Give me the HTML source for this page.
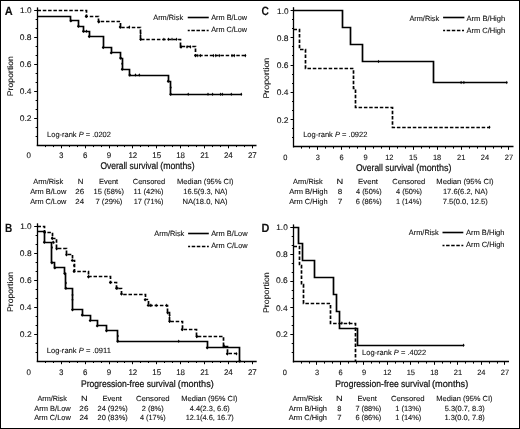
<!DOCTYPE html>
<html><head><meta charset="utf-8"><style>
html,body{margin:0;padding:0;background:#fff;}
svg{display:block;filter:grayscale(100%);}
text{font-family:"Liberation Sans", sans-serif;text-rendering:geometricPrecision;}
</style></head><body>
<svg width="520" height="429" viewBox="0 0 520 429">
<rect x="0" y="0" width="520" height="429" fill="#fff"/>
<rect x="0.5" y="0.5" width="519" height="428" fill="none" stroke="#000" stroke-width="1"/>
<text x="4.82" y="15.00" font-size="12" font-weight="bold" textLength="7.98" lengthAdjust="spacingAndGlyphs" fill="#111" stroke="#111" stroke-width="0.1">A</text>
<text x="20.08" y="13.23" font-size="8.1" textLength="11.45" lengthAdjust="spacingAndGlyphs" fill="#111" stroke="#111" stroke-width="0.1">1.0</text>
<text x="19.76" y="39.94" font-size="8.1" textLength="11.78" lengthAdjust="spacingAndGlyphs" fill="#111" stroke="#111" stroke-width="0.1">0.8</text>
<text x="19.76" y="67.03" font-size="8.1" textLength="11.82" lengthAdjust="spacingAndGlyphs" fill="#111" stroke="#111" stroke-width="0.1">0.6</text>
<text x="19.76" y="94.13" font-size="8.1" textLength="11.69" lengthAdjust="spacingAndGlyphs" fill="#111" stroke="#111" stroke-width="0.1">0.4</text>
<text x="19.76" y="121.13" font-size="8.1" textLength="11.87" lengthAdjust="spacingAndGlyphs" fill="#111" stroke="#111" stroke-width="0.1">0.2</text>
<text transform="translate(13.00,96.20) rotate(-90)" x="0" y="0" font-size="8.2" textLength="40.15" lengthAdjust="spacingAndGlyphs" fill="#111" stroke="#111" stroke-width="0.1">Proportion</text>
<line x1="37.50" y1="7.40" x2="37.50" y2="145.95" stroke="#000" stroke-width="1.3"/>
<line x1="36.75" y1="145.50" x2="256.50" y2="145.50" stroke="#000" stroke-width="1.3"/>
<line x1="34.20" y1="10.50" x2="37.40" y2="10.50" stroke="#000" stroke-width="1.0"/>
<line x1="35.60" y1="19.50" x2="37.40" y2="19.50" stroke="#000" stroke-width="1.0"/>
<line x1="35.60" y1="28.50" x2="37.40" y2="28.50" stroke="#000" stroke-width="1.0"/>
<line x1="34.20" y1="37.50" x2="37.40" y2="37.50" stroke="#000" stroke-width="1.0"/>
<line x1="35.60" y1="46.50" x2="37.40" y2="46.50" stroke="#000" stroke-width="1.0"/>
<line x1="35.60" y1="55.50" x2="37.40" y2="55.50" stroke="#000" stroke-width="1.0"/>
<line x1="34.20" y1="64.50" x2="37.40" y2="64.50" stroke="#000" stroke-width="1.0"/>
<line x1="35.60" y1="73.50" x2="37.40" y2="73.50" stroke="#000" stroke-width="1.0"/>
<line x1="35.60" y1="82.50" x2="37.40" y2="82.50" stroke="#000" stroke-width="1.0"/>
<line x1="34.20" y1="91.50" x2="37.40" y2="91.50" stroke="#000" stroke-width="1.0"/>
<line x1="35.60" y1="100.50" x2="37.40" y2="100.50" stroke="#000" stroke-width="1.0"/>
<line x1="35.60" y1="109.50" x2="37.40" y2="109.50" stroke="#000" stroke-width="1.0"/>
<line x1="34.20" y1="118.50" x2="37.40" y2="118.50" stroke="#000" stroke-width="1.0"/>
<line x1="35.60" y1="127.50" x2="37.40" y2="127.50" stroke="#000" stroke-width="1.0"/>
<line x1="35.60" y1="136.50" x2="37.40" y2="136.50" stroke="#000" stroke-width="1.0"/>
<line x1="45.50" y1="145.30" x2="45.50" y2="147.10" stroke="#000" stroke-width="1.0"/>
<line x1="53.50" y1="145.30" x2="53.50" y2="147.10" stroke="#000" stroke-width="1.0"/>
<line x1="61.50" y1="145.30" x2="61.50" y2="148.30" stroke="#000" stroke-width="1.0"/>
<line x1="69.50" y1="145.30" x2="69.50" y2="147.10" stroke="#000" stroke-width="1.0"/>
<line x1="77.50" y1="145.30" x2="77.50" y2="147.10" stroke="#000" stroke-width="1.0"/>
<line x1="85.50" y1="145.30" x2="85.50" y2="148.30" stroke="#000" stroke-width="1.0"/>
<line x1="93.50" y1="145.30" x2="93.50" y2="147.10" stroke="#000" stroke-width="1.0"/>
<line x1="101.50" y1="145.30" x2="101.50" y2="147.10" stroke="#000" stroke-width="1.0"/>
<line x1="109.50" y1="145.30" x2="109.50" y2="148.30" stroke="#000" stroke-width="1.0"/>
<line x1="117.50" y1="145.30" x2="117.50" y2="147.10" stroke="#000" stroke-width="1.0"/>
<line x1="124.50" y1="145.30" x2="124.50" y2="147.10" stroke="#000" stroke-width="1.0"/>
<line x1="132.50" y1="145.30" x2="132.50" y2="148.30" stroke="#000" stroke-width="1.0"/>
<line x1="140.50" y1="145.30" x2="140.50" y2="147.10" stroke="#000" stroke-width="1.0"/>
<line x1="148.50" y1="145.30" x2="148.50" y2="147.10" stroke="#000" stroke-width="1.0"/>
<line x1="156.50" y1="145.30" x2="156.50" y2="148.30" stroke="#000" stroke-width="1.0"/>
<line x1="164.50" y1="145.30" x2="164.50" y2="147.10" stroke="#000" stroke-width="1.0"/>
<line x1="172.50" y1="145.30" x2="172.50" y2="147.10" stroke="#000" stroke-width="1.0"/>
<line x1="180.50" y1="145.30" x2="180.50" y2="148.30" stroke="#000" stroke-width="1.0"/>
<line x1="188.50" y1="145.30" x2="188.50" y2="147.10" stroke="#000" stroke-width="1.0"/>
<line x1="196.50" y1="145.30" x2="196.50" y2="147.10" stroke="#000" stroke-width="1.0"/>
<line x1="204.50" y1="145.30" x2="204.50" y2="148.30" stroke="#000" stroke-width="1.0"/>
<line x1="212.50" y1="145.30" x2="212.50" y2="147.10" stroke="#000" stroke-width="1.0"/>
<line x1="220.50" y1="145.30" x2="220.50" y2="147.10" stroke="#000" stroke-width="1.0"/>
<line x1="228.50" y1="145.30" x2="228.50" y2="148.30" stroke="#000" stroke-width="1.0"/>
<line x1="236.50" y1="145.30" x2="236.50" y2="147.10" stroke="#000" stroke-width="1.0"/>
<line x1="244.50" y1="145.30" x2="244.50" y2="147.10" stroke="#000" stroke-width="1.0"/>
<line x1="252.50" y1="145.30" x2="252.50" y2="148.30" stroke="#000" stroke-width="1.0"/>
<text x="26.49" y="158.30" font-size="8.2" textLength="4.42" lengthAdjust="spacingAndGlyphs" fill="#111" stroke="#111" stroke-width="0.1">0</text>
<text x="59.09" y="158.30" font-size="8.2" textLength="4.42" lengthAdjust="spacingAndGlyphs" fill="#111" stroke="#111" stroke-width="0.1">3</text>
<text x="82.93" y="158.30" font-size="8.2" textLength="4.42" lengthAdjust="spacingAndGlyphs" fill="#111" stroke="#111" stroke-width="0.1">6</text>
<text x="106.83" y="158.30" font-size="8.2" textLength="4.42" lengthAdjust="spacingAndGlyphs" fill="#111" stroke="#111" stroke-width="0.1">9</text>
<text x="128.41" y="158.30" font-size="8.2" textLength="8.85" lengthAdjust="spacingAndGlyphs" fill="#111" stroke="#111" stroke-width="0.1">12</text>
<text x="152.25" y="158.30" font-size="8.2" textLength="8.85" lengthAdjust="spacingAndGlyphs" fill="#111" stroke="#111" stroke-width="0.1">15</text>
<text x="176.13" y="158.30" font-size="8.2" textLength="8.85" lengthAdjust="spacingAndGlyphs" fill="#111" stroke="#111" stroke-width="0.1">18</text>
<text x="200.15" y="158.30" font-size="8.2" textLength="8.85" lengthAdjust="spacingAndGlyphs" fill="#111" stroke="#111" stroke-width="0.1">21</text>
<text x="223.95" y="158.30" font-size="8.2" textLength="8.85" lengthAdjust="spacingAndGlyphs" fill="#111" stroke="#111" stroke-width="0.1">24</text>
<text x="247.91" y="158.30" font-size="8.2" textLength="8.85" lengthAdjust="spacingAndGlyphs" fill="#111" stroke="#111" stroke-width="0.1">27</text>
<text x="100.42" y="169.40" font-size="9.8" textLength="57.73" lengthAdjust="spacingAndGlyphs" fill="#111" stroke="#111" stroke-width="0.22">Overall survival</text>
<text x="160.28" y="169.40" font-size="9.8" textLength="34.29" lengthAdjust="spacingAndGlyphs" fill="#111" stroke="#111" stroke-width="0.22">(months)</text>
<text x="47.10" y="137.00" font-size="7.6" textLength="63.78" lengthAdjust="spacingAndGlyphs" fill="#111" stroke="#111" stroke-width="0.1">Log-rank <tspan font-style="italic">P</tspan> = .0202</text>
<text x="153.26" y="20.00" font-size="7.5" textLength="29.84" lengthAdjust="spacingAndGlyphs" fill="#111" stroke="#111" stroke-width="0.1">Arm/Risk</text>
<line x1="187.75" y1="17.50" x2="208.75" y2="17.50" stroke="#000" stroke-width="1.6"/>
<text x="211.21" y="20.00" font-size="7.5" textLength="35.85" lengthAdjust="spacingAndGlyphs" fill="#111" stroke="#111" stroke-width="0.1">Arm B/Low</text>
<line x1="187.75" y1="30.50" x2="208.75" y2="30.50" stroke="#000" stroke-width="1.6" stroke-dasharray="2 1.6 3.5 1.6 3.5 1.6 3.5 1.6 2"/>
<text x="211.21" y="32.00" font-size="7.5" textLength="35.85" lengthAdjust="spacingAndGlyphs" fill="#111" stroke="#111" stroke-width="0.1">Arm C/Low</text>
<path d="M70.90,19.20 L72.40,20.90 L70.90,22.60 L69.40,20.90 Z" fill="#000"/>
<path d="M78.40,24.60 L79.90,26.30 L78.40,28.00 L76.90,26.30 Z" fill="#000"/>
<path d="M83.40,29.50 L84.90,31.20 L83.40,32.90 L81.90,31.20 Z" fill="#000"/>
<path d="M89.20,34.80 L90.70,36.50 L89.20,38.20 L87.70,36.50 Z" fill="#000"/>
<path d="M103.20,45.80 L104.70,47.50 L103.20,49.20 L101.70,47.50 Z" fill="#000"/>
<path d="M111.20,51.20 L112.70,52.90 L111.20,54.60 L109.70,52.90 Z" fill="#000"/>
<path d="M120.60,56.30 L122.10,58.00 L120.60,59.70 L119.10,58.00 Z" fill="#000"/>
<path d="M122.20,67.60 L123.70,69.30 L122.20,71.00 L120.70,69.30 Z" fill="#000"/>
<path d="M129.80,73.30 L131.30,75.00 L129.80,76.70 L128.30,75.00 Z" fill="#000"/>
<path d="M168.20,79.60 L169.70,81.30 L168.20,83.00 L166.70,81.30 Z" fill="#000"/>
<path d="M170.70,92.50 L172.20,94.20 L170.70,95.90 L169.20,94.20 Z" fill="#000"/>
<path d="M37.50,16.50 L70.50,16.50 L70.50,20.50 L78.50,20.50 L78.50,26.50 L83.50,26.50 L83.50,31.50 L89.50,31.50 L89.50,36.50 L103.50,36.50 L103.50,47.50 L111.50,47.50 L111.50,52.50 L120.50,52.50 L120.50,58.50 L122.50,58.50 L122.50,69.50 L129.50,69.50 L129.50,75.50 L168.50,75.50 L168.50,81.50 L170.50,81.50 L170.50,94.50 L241.50,94.50" fill="none" stroke="#000" stroke-width="1.7" stroke-linejoin="miter" stroke-linecap="butt"/>
<path d="M86.50,29.40 L87.50,31.20 L86.50,33.00 L85.50,31.20 Z" fill="#000"/>
<path d="M122.20,61.90 L123.20,63.70 L122.20,65.50 L121.20,63.70 Z" fill="#000"/>
<path d="M135.50,73.20 L136.50,75.00 L135.50,76.80 L134.50,75.00 Z" fill="#000"/>
<path d="M139.30,73.20 L140.30,75.00 L139.30,76.80 L138.30,75.00 Z" fill="#000"/>
<path d="M170.70,85.70 L171.70,87.50 L170.70,89.30 L169.70,87.50 Z" fill="#000"/>
<path d="M188.20,92.40 L189.20,94.20 L188.20,96.00 L187.20,94.20 Z" fill="#000"/>
<path d="M208.00,92.40 L209.00,94.20 L208.00,96.00 L207.00,94.20 Z" fill="#000"/>
<path d="M212.60,92.40 L213.60,94.20 L212.60,96.00 L211.60,94.20 Z" fill="#000"/>
<path d="M220.60,92.40 L221.60,94.20 L220.60,96.00 L219.60,94.20 Z" fill="#000"/>
<path d="M222.40,92.40 L223.40,94.20 L222.40,96.00 L221.40,94.20 Z" fill="#000"/>
<path d="M231.30,92.40 L232.30,94.20 L231.30,96.00 L230.30,94.20 Z" fill="#000"/>
<path d="M241.30,92.40 L242.30,94.20 L241.30,96.00 L240.30,94.20 Z" fill="#000"/>
<path d="M86.10,14.70 L87.60,16.40 L86.10,18.10 L84.60,16.40 Z" fill="#000"/>
<path d="M98.70,20.10 L100.20,21.80 L98.70,23.50 L97.20,21.80 Z" fill="#000"/>
<path d="M120.10,25.40 L121.60,27.10 L120.10,28.80 L118.60,27.10 Z" fill="#000"/>
<path d="M140.60,37.50 L142.10,39.20 L140.60,40.90 L139.10,39.20 Z" fill="#000"/>
<path d="M180.70,45.20 L182.20,46.90 L180.70,48.60 L179.20,46.90 Z" fill="#000"/>
<path d="M195.50,53.90 L197.00,55.60 L195.50,57.30 L194.00,55.60 Z" fill="#000"/>
<path d="M37.50,10.50 L86.50,10.50 L86.50,16.50 L98.50,16.50 L98.50,21.50 L120.50,21.50 L120.50,27.50 L140.50,27.50 L140.50,39.50 L180.50,39.50 L180.50,46.50 L195.50,46.50 L195.50,55.50 L245.50,55.50" fill="none" stroke="#000" stroke-width="1.7" stroke-dasharray="3.5 1.8" stroke-linejoin="miter" stroke-linecap="butt"/>
<path d="M86.30,14.60 L87.30,16.40 L86.30,18.20 L85.30,16.40 Z" fill="#000"/>
<path d="M98.90,20.00 L99.90,21.80 L98.90,23.60 L97.90,21.80 Z" fill="#000"/>
<path d="M120.30,25.30 L121.30,27.10 L120.30,28.90 L119.30,27.10 Z" fill="#000"/>
<path d="M129.30,25.30 L130.30,27.10 L129.30,28.90 L128.30,27.10 Z" fill="#000"/>
<path d="M140.60,31.70 L141.60,33.50 L140.60,35.30 L139.60,33.50 Z" fill="#000"/>
<path d="M140.80,37.40 L141.80,39.20 L140.80,41.00 L139.80,39.20 Z" fill="#000"/>
<path d="M163.90,37.40 L164.90,39.20 L163.90,41.00 L162.90,39.20 Z" fill="#000"/>
<path d="M168.50,37.40 L169.50,39.20 L168.50,41.00 L167.50,39.20 Z" fill="#000"/>
<path d="M172.00,37.40 L173.00,39.20 L172.00,41.00 L171.00,39.20 Z" fill="#000"/>
<path d="M176.60,37.40 L177.60,39.20 L176.60,41.00 L175.60,39.20 Z" fill="#000"/>
<path d="M181.20,45.10 L182.20,46.90 L181.20,48.70 L180.20,46.90 Z" fill="#000"/>
<path d="M187.00,45.10 L188.00,46.90 L187.00,48.70 L186.00,46.90 Z" fill="#000"/>
<path d="M190.40,45.10 L191.40,46.90 L190.40,48.70 L189.40,46.90 Z" fill="#000"/>
<path d="M195.50,53.80 L196.50,55.60 L195.50,57.40 L194.50,55.60 Z" fill="#000"/>
<path d="M197.80,53.80 L198.80,55.60 L197.80,57.40 L196.80,55.60 Z" fill="#000"/>
<path d="M200.40,53.80 L201.40,55.60 L200.40,57.40 L199.40,55.60 Z" fill="#000"/>
<path d="M213.50,53.80 L214.50,55.60 L213.50,57.40 L212.50,55.60 Z" fill="#000"/>
<path d="M215.80,53.80 L216.80,55.60 L215.80,57.40 L214.80,55.60 Z" fill="#000"/>
<path d="M219.30,53.80 L220.30,55.60 L219.30,57.40 L218.30,55.60 Z" fill="#000"/>
<path d="M232.00,53.80 L233.00,55.60 L232.00,57.40 L231.00,55.60 Z" fill="#000"/>
<path d="M234.30,53.80 L235.30,55.60 L234.30,57.40 L233.30,55.60 Z" fill="#000"/>
<path d="M245.40,53.80 L246.40,55.60 L245.40,57.40 L244.40,55.60 Z" fill="#000"/>
<text x="33.26" y="184.00" font-size="7.4" textLength="29.84" lengthAdjust="spacingAndGlyphs" fill="#111" stroke="#111" stroke-width="0.1">Arm/Risk</text>
<text x="77.67" y="184.00" font-size="7.4" textLength="5.67" lengthAdjust="spacingAndGlyphs" fill="#111" stroke="#111" stroke-width="0.1">N</text>
<text x="99.00" y="184.00" font-size="7.4" textLength="19.15" lengthAdjust="spacingAndGlyphs" fill="#111" stroke="#111" stroke-width="0.1">Event</text>
<text x="132.73" y="184.00" font-size="7.4" textLength="32.47" lengthAdjust="spacingAndGlyphs" fill="#111" stroke="#111" stroke-width="0.1">Censored</text>
<text x="177.10" y="184.00" font-size="7.4" textLength="56.48" lengthAdjust="spacingAndGlyphs" fill="#111" stroke="#111" stroke-width="0.1">Median (95% CI)</text>
<text x="30.16" y="194.00" font-size="7.4" textLength="36.10" lengthAdjust="spacingAndGlyphs" fill="#111" stroke="#111" stroke-width="0.1">Arm B/Low</text>
<text x="75.30" y="194.00" font-size="7.4" textLength="8.88" lengthAdjust="spacingAndGlyphs" fill="#111" stroke="#111" stroke-width="0.1">26</text>
<text x="93.64" y="194.00" font-size="7.4" textLength="30.33" lengthAdjust="spacingAndGlyphs" fill="#111" stroke="#111" stroke-width="0.1">15 (58%)</text>
<text x="133.64" y="194.00" font-size="7.4" textLength="29.94" lengthAdjust="spacingAndGlyphs" fill="#111" stroke="#111" stroke-width="0.1">11 (42%)</text>
<text x="183.34" y="194.00" font-size="7.4" textLength="44.22" lengthAdjust="spacingAndGlyphs" fill="#111" stroke="#111" stroke-width="0.1">16.5(9.3, NA)</text>
<text x="30.16" y="204.00" font-size="7.4" textLength="36.10" lengthAdjust="spacingAndGlyphs" fill="#111" stroke="#111" stroke-width="0.1">Arm C/Low</text>
<text x="75.31" y="204.00" font-size="7.4" textLength="8.75" lengthAdjust="spacingAndGlyphs" fill="#111" stroke="#111" stroke-width="0.1">24</text>
<text x="95.42" y="204.00" font-size="7.4" textLength="26.96" lengthAdjust="spacingAndGlyphs" fill="#111" stroke="#111" stroke-width="0.1">7 (29%)</text>
<text x="133.65" y="204.00" font-size="7.4" textLength="29.92" lengthAdjust="spacingAndGlyphs" fill="#111" stroke="#111" stroke-width="0.1">17 (71%)</text>
<text x="182.60" y="204.00" font-size="7.4" textLength="44.97" lengthAdjust="spacingAndGlyphs" fill="#111" stroke="#111" stroke-width="0.1">NA(18.0, NA)</text>
<text x="5.05" y="232.00" font-size="12" font-weight="bold" textLength="7.22" lengthAdjust="spacingAndGlyphs" fill="#111" stroke="#111" stroke-width="0.1">B</text>
<text x="20.18" y="229.44" font-size="8.1" textLength="11.45" lengthAdjust="spacingAndGlyphs" fill="#111" stroke="#111" stroke-width="0.1">1.0</text>
<text x="19.86" y="256.13" font-size="8.1" textLength="11.78" lengthAdjust="spacingAndGlyphs" fill="#111" stroke="#111" stroke-width="0.1">0.8</text>
<text x="19.86" y="282.94" font-size="8.1" textLength="11.82" lengthAdjust="spacingAndGlyphs" fill="#111" stroke="#111" stroke-width="0.1">0.6</text>
<text x="19.86" y="310.13" font-size="8.1" textLength="11.69" lengthAdjust="spacingAndGlyphs" fill="#111" stroke="#111" stroke-width="0.1">0.4</text>
<text x="19.86" y="337.03" font-size="8.1" textLength="11.87" lengthAdjust="spacingAndGlyphs" fill="#111" stroke="#111" stroke-width="0.1">0.2</text>
<text transform="translate(13.00,311.99) rotate(-90)" x="0" y="0" font-size="8.2" textLength="40.05" lengthAdjust="spacingAndGlyphs" fill="#111" stroke="#111" stroke-width="0.1">Proportion</text>
<line x1="37.50" y1="223.30" x2="37.50" y2="361.85" stroke="#000" stroke-width="1.3"/>
<line x1="36.75" y1="361.50" x2="256.70" y2="361.50" stroke="#000" stroke-width="1.3"/>
<line x1="34.20" y1="226.50" x2="37.40" y2="226.50" stroke="#000" stroke-width="1.0"/>
<line x1="35.60" y1="235.50" x2="37.40" y2="235.50" stroke="#000" stroke-width="1.0"/>
<line x1="35.60" y1="244.50" x2="37.40" y2="244.50" stroke="#000" stroke-width="1.0"/>
<line x1="34.20" y1="253.50" x2="37.40" y2="253.50" stroke="#000" stroke-width="1.0"/>
<line x1="35.60" y1="262.50" x2="37.40" y2="262.50" stroke="#000" stroke-width="1.0"/>
<line x1="35.60" y1="271.50" x2="37.40" y2="271.50" stroke="#000" stroke-width="1.0"/>
<line x1="34.20" y1="280.50" x2="37.40" y2="280.50" stroke="#000" stroke-width="1.0"/>
<line x1="35.60" y1="289.50" x2="37.40" y2="289.50" stroke="#000" stroke-width="1.0"/>
<line x1="35.60" y1="298.50" x2="37.40" y2="298.50" stroke="#000" stroke-width="1.0"/>
<line x1="34.20" y1="307.50" x2="37.40" y2="307.50" stroke="#000" stroke-width="1.0"/>
<line x1="35.60" y1="316.50" x2="37.40" y2="316.50" stroke="#000" stroke-width="1.0"/>
<line x1="35.60" y1="325.50" x2="37.40" y2="325.50" stroke="#000" stroke-width="1.0"/>
<line x1="34.20" y1="334.50" x2="37.40" y2="334.50" stroke="#000" stroke-width="1.0"/>
<line x1="35.60" y1="343.50" x2="37.40" y2="343.50" stroke="#000" stroke-width="1.0"/>
<line x1="35.60" y1="352.50" x2="37.40" y2="352.50" stroke="#000" stroke-width="1.0"/>
<line x1="45.50" y1="361.20" x2="45.50" y2="363.00" stroke="#000" stroke-width="1.0"/>
<line x1="53.50" y1="361.20" x2="53.50" y2="363.00" stroke="#000" stroke-width="1.0"/>
<line x1="61.50" y1="361.20" x2="61.50" y2="364.20" stroke="#000" stroke-width="1.0"/>
<line x1="69.50" y1="361.20" x2="69.50" y2="363.00" stroke="#000" stroke-width="1.0"/>
<line x1="77.50" y1="361.20" x2="77.50" y2="363.00" stroke="#000" stroke-width="1.0"/>
<line x1="85.50" y1="361.20" x2="85.50" y2="364.20" stroke="#000" stroke-width="1.0"/>
<line x1="93.50" y1="361.20" x2="93.50" y2="363.00" stroke="#000" stroke-width="1.0"/>
<line x1="101.50" y1="361.20" x2="101.50" y2="363.00" stroke="#000" stroke-width="1.0"/>
<line x1="109.50" y1="361.20" x2="109.50" y2="364.20" stroke="#000" stroke-width="1.0"/>
<line x1="117.50" y1="361.20" x2="117.50" y2="363.00" stroke="#000" stroke-width="1.0"/>
<line x1="124.50" y1="361.20" x2="124.50" y2="363.00" stroke="#000" stroke-width="1.0"/>
<line x1="132.50" y1="361.20" x2="132.50" y2="364.20" stroke="#000" stroke-width="1.0"/>
<line x1="140.50" y1="361.20" x2="140.50" y2="363.00" stroke="#000" stroke-width="1.0"/>
<line x1="148.50" y1="361.20" x2="148.50" y2="363.00" stroke="#000" stroke-width="1.0"/>
<line x1="156.50" y1="361.20" x2="156.50" y2="364.20" stroke="#000" stroke-width="1.0"/>
<line x1="164.50" y1="361.20" x2="164.50" y2="363.00" stroke="#000" stroke-width="1.0"/>
<line x1="172.50" y1="361.20" x2="172.50" y2="363.00" stroke="#000" stroke-width="1.0"/>
<line x1="180.50" y1="361.20" x2="180.50" y2="364.20" stroke="#000" stroke-width="1.0"/>
<line x1="188.50" y1="361.20" x2="188.50" y2="363.00" stroke="#000" stroke-width="1.0"/>
<line x1="196.50" y1="361.20" x2="196.50" y2="363.00" stroke="#000" stroke-width="1.0"/>
<line x1="204.50" y1="361.20" x2="204.50" y2="364.20" stroke="#000" stroke-width="1.0"/>
<line x1="212.50" y1="361.20" x2="212.50" y2="363.00" stroke="#000" stroke-width="1.0"/>
<line x1="220.50" y1="361.20" x2="220.50" y2="363.00" stroke="#000" stroke-width="1.0"/>
<line x1="228.50" y1="361.20" x2="228.50" y2="364.20" stroke="#000" stroke-width="1.0"/>
<line x1="236.50" y1="361.20" x2="236.50" y2="363.00" stroke="#000" stroke-width="1.0"/>
<line x1="244.50" y1="361.20" x2="244.50" y2="363.00" stroke="#000" stroke-width="1.0"/>
<line x1="252.50" y1="361.20" x2="252.50" y2="364.20" stroke="#000" stroke-width="1.0"/>
<text x="26.59" y="375.00" font-size="8.2" textLength="4.42" lengthAdjust="spacingAndGlyphs" fill="#111" stroke="#111" stroke-width="0.1">0</text>
<text x="59.09" y="375.00" font-size="8.2" textLength="4.42" lengthAdjust="spacingAndGlyphs" fill="#111" stroke="#111" stroke-width="0.1">3</text>
<text x="82.93" y="375.00" font-size="8.2" textLength="4.42" lengthAdjust="spacingAndGlyphs" fill="#111" stroke="#111" stroke-width="0.1">6</text>
<text x="106.83" y="375.00" font-size="8.2" textLength="4.42" lengthAdjust="spacingAndGlyphs" fill="#111" stroke="#111" stroke-width="0.1">9</text>
<text x="128.41" y="375.00" font-size="8.2" textLength="8.85" lengthAdjust="spacingAndGlyphs" fill="#111" stroke="#111" stroke-width="0.1">12</text>
<text x="152.25" y="375.00" font-size="8.2" textLength="8.85" lengthAdjust="spacingAndGlyphs" fill="#111" stroke="#111" stroke-width="0.1">15</text>
<text x="176.13" y="375.00" font-size="8.2" textLength="8.85" lengthAdjust="spacingAndGlyphs" fill="#111" stroke="#111" stroke-width="0.1">18</text>
<text x="200.15" y="375.00" font-size="8.2" textLength="8.85" lengthAdjust="spacingAndGlyphs" fill="#111" stroke="#111" stroke-width="0.1">21</text>
<text x="223.95" y="375.00" font-size="8.2" textLength="8.85" lengthAdjust="spacingAndGlyphs" fill="#111" stroke="#111" stroke-width="0.1">24</text>
<text x="247.91" y="375.00" font-size="8.2" textLength="8.85" lengthAdjust="spacingAndGlyphs" fill="#111" stroke="#111" stroke-width="0.1">27</text>
<text x="81.01" y="387.00" font-size="9.6" textLength="94.74" lengthAdjust="spacingAndGlyphs" fill="#111" stroke="#111" stroke-width="0.22">Progression-free survival</text>
<text x="177.85" y="387.00" font-size="9.6" textLength="35.94" lengthAdjust="spacingAndGlyphs" fill="#111" stroke="#111" stroke-width="0.22">(months)</text>
<text x="46.69" y="353.00" font-size="7.6" textLength="64.20" lengthAdjust="spacingAndGlyphs" fill="#111" stroke="#111" stroke-width="0.1">Log-rank <tspan font-style="italic">P</tspan> = .0911</text>
<text x="154.36" y="236.00" font-size="7.5" textLength="29.94" lengthAdjust="spacingAndGlyphs" fill="#111" stroke="#111" stroke-width="0.1">Arm/Risk</text>
<line x1="188.10" y1="233.50" x2="208.80" y2="233.50" stroke="#000" stroke-width="1.6"/>
<text x="211.16" y="236.00" font-size="7.5" textLength="36.40" lengthAdjust="spacingAndGlyphs" fill="#111" stroke="#111" stroke-width="0.1">Arm B/Low</text>
<line x1="188.10" y1="246.50" x2="208.80" y2="246.50" stroke="#000" stroke-width="1.6" stroke-dasharray="2 1.6 3.5 1.6 3.5 1.6 3.5 1.6 2"/>
<text x="211.16" y="248.00" font-size="7.5" textLength="36.40" lengthAdjust="spacingAndGlyphs" fill="#111" stroke="#111" stroke-width="0.1">Arm C/Low</text>
<path d="M44.30,240.60 L45.80,242.30 L44.30,244.00 L42.80,242.30 Z" fill="#000"/>
<path d="M51.90,261.10 L53.40,262.80 L51.90,264.50 L50.40,262.80 Z" fill="#000"/>
<path d="M54.90,266.20 L56.40,267.90 L54.90,269.60 L53.40,267.90 Z" fill="#000"/>
<path d="M64.80,271.80 L66.30,273.50 L64.80,275.20 L63.30,273.50 Z" fill="#000"/>
<path d="M65.90,286.60 L67.40,288.30 L65.90,290.00 L64.40,288.30 Z" fill="#000"/>
<path d="M72.50,308.00 L74.00,309.70 L72.50,311.40 L71.00,309.70 Z" fill="#000"/>
<path d="M82.20,313.30 L83.70,315.00 L82.20,316.70 L80.70,315.00 Z" fill="#000"/>
<path d="M90.10,318.90 L91.60,320.60 L90.10,322.30 L88.60,320.60 Z" fill="#000"/>
<path d="M97.20,324.20 L98.70,325.90 L97.20,327.60 L95.70,325.90 Z" fill="#000"/>
<path d="M106.50,329.00 L108.00,330.70 L106.50,332.40 L105.00,330.70 Z" fill="#000"/>
<path d="M117.80,339.60 L119.30,341.30 L117.80,343.00 L116.30,341.30 Z" fill="#000"/>
<path d="M207.20,346.10 L208.70,347.80 L207.20,349.50 L205.70,347.80 Z" fill="#000"/>
<path d="M239.80,359.50 L241.30,361.20 L239.80,362.90 L238.30,361.20 Z" fill="#000"/>
<path d="M37.50,231.50 L44.50,231.50 L44.50,242.50 L51.50,242.50 L51.50,262.50 L54.50,262.50 L54.50,267.50 L64.50,267.50 L64.50,273.50 L65.50,273.50 L65.50,288.50 L72.50,288.50 L72.50,309.50 L82.50,309.50 L82.50,315.50 L90.50,315.50 L90.50,320.50 L97.50,320.50 L97.50,325.50 L106.50,325.50 L106.50,330.50 L117.50,330.50 L117.50,341.50 L207.50,341.50 L207.50,347.50 L239.50,347.50 L239.50,361.50" fill="none" stroke="#000" stroke-width="1.7" stroke-linejoin="miter" stroke-linecap="butt"/>
<path d="M53.00,240.50 L54.00,242.30 L53.00,244.10 L52.00,242.30 Z" fill="#000"/>
<path d="M51.90,245.80 L52.90,247.60 L51.90,249.40 L50.90,247.60 Z" fill="#000"/>
<path d="M65.90,281.20 L66.90,283.00 L65.90,284.80 L64.90,283.00 Z" fill="#000"/>
<path d="M72.50,293.10 L73.50,294.90 L72.50,296.70 L71.50,294.90 Z" fill="#000"/>
<path d="M72.50,298.00 L73.50,299.80 L72.50,301.60 L71.50,299.80 Z" fill="#000"/>
<path d="M117.80,334.20 L118.80,336.00 L117.80,337.80 L116.80,336.00 Z" fill="#000"/>
<path d="M178.70,339.50 L179.70,341.30 L178.70,343.10 L177.70,341.30 Z" fill="#000"/>
<path d="M44.70,230.50 L46.20,232.20 L44.70,233.90 L43.20,232.20 Z" fill="#000"/>
<path d="M52.20,236.60 L53.70,238.30 L52.20,240.00 L50.70,238.30 Z" fill="#000"/>
<path d="M56.70,247.00 L58.20,248.70 L56.70,250.40 L55.20,248.70 Z" fill="#000"/>
<path d="M66.50,253.00 L68.00,254.70 L66.50,256.40 L65.00,254.70 Z" fill="#000"/>
<path d="M72.20,258.70 L73.70,260.40 L72.20,262.10 L70.70,260.40 Z" fill="#000"/>
<path d="M74.00,269.50 L75.50,271.20 L74.00,272.90 L72.50,271.20 Z" fill="#000"/>
<path d="M88.50,275.10 L90.00,276.80 L88.50,278.50 L87.00,276.80 Z" fill="#000"/>
<path d="M110.30,280.90 L111.80,282.60 L110.30,284.30 L108.80,282.60 Z" fill="#000"/>
<path d="M116.50,286.50 L118.00,288.20 L116.50,289.90 L115.00,288.20 Z" fill="#000"/>
<path d="M121.50,292.30 L123.00,294.00 L121.50,295.70 L120.00,294.00 Z" fill="#000"/>
<path d="M145.10,298.10 L146.60,299.80 L145.10,301.50 L143.60,299.80 Z" fill="#000"/>
<path d="M148.10,303.70 L149.60,305.40 L148.10,307.10 L146.60,305.40 Z" fill="#000"/>
<path d="M167.70,311.10 L169.20,312.80 L167.70,314.50 L166.20,312.80 Z" fill="#000"/>
<path d="M169.60,319.50 L171.10,321.20 L169.60,322.90 L168.10,321.20 Z" fill="#000"/>
<path d="M182.20,327.80 L183.70,329.50 L182.20,331.20 L180.70,329.50 Z" fill="#000"/>
<path d="M196.80,334.80 L198.30,336.50 L196.80,338.20 L195.30,336.50 Z" fill="#000"/>
<path d="M223.80,344.80 L225.30,346.50 L223.80,348.20 L222.30,346.50 Z" fill="#000"/>
<path d="M227.30,352.10 L228.80,353.80 L227.30,355.50 L225.80,353.80 Z" fill="#000"/>
<path d="M37.50,226.50 L44.50,226.50 L44.50,232.50 L52.50,232.50 L52.50,238.50 L56.50,238.50 L56.50,248.50 L66.50,248.50 L66.50,254.50 L72.50,254.50 L72.50,260.50 L74.50,260.50 L74.50,271.50 L88.50,271.50 L88.50,276.50 L110.50,276.50 L110.50,282.50 L116.50,282.50 L116.50,288.50 L121.50,288.50 L121.50,294.50 L145.50,294.50 L145.50,299.50 L148.50,299.50 L148.50,305.50 L167.50,305.50 L167.50,312.50 L169.50,312.50 L169.50,321.50 L182.50,321.50 L182.50,329.50 L196.50,329.50 L196.50,336.50 L223.50,336.50 L223.50,346.50 L227.50,346.50 L227.50,353.50 L236.50,353.50" fill="none" stroke="#000" stroke-width="1.7" stroke-dasharray="3.5 1.8" stroke-linejoin="miter" stroke-linecap="butt"/>
<path d="M52.20,236.50 L53.20,238.30 L52.20,240.10 L51.20,238.30 Z" fill="#000"/>
<path d="M53.80,240.70 L54.80,242.50 L53.80,244.30 L52.80,242.50 Z" fill="#000"/>
<path d="M74.00,263.70 L75.00,265.50 L74.00,267.30 L73.00,265.50 Z" fill="#000"/>
<path d="M74.00,269.40 L75.00,271.20 L74.00,273.00 L73.00,271.20 Z" fill="#000"/>
<path d="M88.50,275.00 L89.50,276.80 L88.50,278.60 L87.50,276.80 Z" fill="#000"/>
<path d="M117.80,286.40 L118.80,288.20 L117.80,290.00 L116.80,288.20 Z" fill="#000"/>
<path d="M150.10,303.60 L151.10,305.40 L150.10,307.20 L149.10,305.40 Z" fill="#000"/>
<path d="M151.00,303.60 L152.00,305.40 L151.00,307.20 L150.00,305.40 Z" fill="#000"/>
<path d="M156.20,303.60 L157.20,305.40 L156.20,307.20 L155.20,305.40 Z" fill="#000"/>
<path d="M166.60,303.60 L167.60,305.40 L166.60,307.20 L165.60,305.40 Z" fill="#000"/>
<path d="M169.60,313.70 L170.60,315.50 L169.60,317.30 L168.60,315.50 Z" fill="#000"/>
<path d="M169.60,319.40 L170.60,321.20 L169.60,323.00 L168.60,321.20 Z" fill="#000"/>
<path d="M182.20,327.70 L183.20,329.50 L182.20,331.30 L181.20,329.50 Z" fill="#000"/>
<path d="M196.80,334.70 L197.80,336.50 L196.80,338.30 L195.80,336.50 Z" fill="#000"/>
<path d="M223.80,343.70 L224.80,345.50 L223.80,347.30 L222.80,345.50 Z" fill="#000"/>
<path d="M227.30,352.00 L228.30,353.80 L227.30,355.60 L226.30,353.80 Z" fill="#000"/>
<path d="M236.50,352.00 L237.50,353.80 L236.50,355.60 L235.50,353.80 Z" fill="#000"/>
<text x="37.46" y="401.00" font-size="7.4" textLength="29.44" lengthAdjust="spacingAndGlyphs" fill="#111" stroke="#111" stroke-width="0.1">Arm/Risk</text>
<text x="80.96" y="401.00" font-size="7.4" textLength="6.71" lengthAdjust="spacingAndGlyphs" fill="#111" stroke="#111" stroke-width="0.1">N</text>
<text x="102.49" y="401.00" font-size="7.4" textLength="19.46" lengthAdjust="spacingAndGlyphs" fill="#111" stroke="#111" stroke-width="0.1">Event</text>
<text x="135.91" y="401.00" font-size="7.4" textLength="33.60" lengthAdjust="spacingAndGlyphs" fill="#111" stroke="#111" stroke-width="0.1">Censored</text>
<text x="181.30" y="401.00" font-size="7.4" textLength="56.27" lengthAdjust="spacingAndGlyphs" fill="#111" stroke="#111" stroke-width="0.1">Median (95% CI)</text>
<text x="34.16" y="411.00" font-size="7.4" textLength="36.60" lengthAdjust="spacingAndGlyphs" fill="#111" stroke="#111" stroke-width="0.1">Arm B/Low</text>
<text x="79.39" y="411.00" font-size="7.4" textLength="9.10" lengthAdjust="spacingAndGlyphs" fill="#111" stroke="#111" stroke-width="0.1">26</text>
<text x="97.53" y="411.00" font-size="7.4" textLength="30.24" lengthAdjust="spacingAndGlyphs" fill="#111" stroke="#111" stroke-width="0.1">24 (92%)</text>
<text x="141.73" y="411.00" font-size="7.4" textLength="22.06" lengthAdjust="spacingAndGlyphs" fill="#111" stroke="#111" stroke-width="0.1">2 (8%)</text>
<text x="189.81" y="411.00" font-size="7.4" textLength="40.05" lengthAdjust="spacingAndGlyphs" fill="#111" stroke="#111" stroke-width="0.1">4.4(2.3, 6.6)</text>
<text x="34.16" y="420.00" font-size="7.4" textLength="36.60" lengthAdjust="spacingAndGlyphs" fill="#111" stroke="#111" stroke-width="0.1">Arm C/Low</text>
<text x="79.40" y="420.00" font-size="7.4" textLength="8.96" lengthAdjust="spacingAndGlyphs" fill="#111" stroke="#111" stroke-width="0.1">24</text>
<text x="97.53" y="420.00" font-size="7.4" textLength="30.24" lengthAdjust="spacingAndGlyphs" fill="#111" stroke="#111" stroke-width="0.1">20 (83%)</text>
<text x="140.02" y="420.00" font-size="7.4" textLength="25.63" lengthAdjust="spacingAndGlyphs" fill="#111" stroke="#111" stroke-width="0.1">4 (17%)</text>
<text x="185.65" y="420.00" font-size="7.4" textLength="48.13" lengthAdjust="spacingAndGlyphs" fill="#111" stroke="#111" stroke-width="0.1">12.1(4.6, 16.7)</text>
<text x="261.59" y="14.60" font-size="12" font-weight="bold" textLength="7.39" lengthAdjust="spacingAndGlyphs" fill="#111" stroke="#111" stroke-width="0.1">C</text>
<text x="277.08" y="13.93" font-size="8.1" textLength="11.45" lengthAdjust="spacingAndGlyphs" fill="#111" stroke="#111" stroke-width="0.1">1.0</text>
<text x="276.76" y="40.84" font-size="8.1" textLength="11.78" lengthAdjust="spacingAndGlyphs" fill="#111" stroke="#111" stroke-width="0.1">0.8</text>
<text x="276.76" y="67.93" font-size="8.1" textLength="11.82" lengthAdjust="spacingAndGlyphs" fill="#111" stroke="#111" stroke-width="0.1">0.6</text>
<text x="276.76" y="95.43" font-size="8.1" textLength="11.69" lengthAdjust="spacingAndGlyphs" fill="#111" stroke="#111" stroke-width="0.1">0.4</text>
<text x="276.76" y="122.83" font-size="8.1" textLength="11.87" lengthAdjust="spacingAndGlyphs" fill="#111" stroke="#111" stroke-width="0.1">0.2</text>
<text transform="translate(269.10,98.61) rotate(-90)" x="0" y="0" font-size="8.2" textLength="40.88" lengthAdjust="spacingAndGlyphs" fill="#111" stroke="#111" stroke-width="0.1">Proportion</text>
<line x1="293.50" y1="7.20" x2="293.50" y2="147.45" stroke="#000" stroke-width="1.3"/>
<line x1="293.15" y1="146.50" x2="513.50" y2="146.50" stroke="#000" stroke-width="1.3"/>
<line x1="290.60" y1="10.50" x2="293.80" y2="10.50" stroke="#000" stroke-width="1.0"/>
<line x1="292.00" y1="19.50" x2="293.80" y2="19.50" stroke="#000" stroke-width="1.0"/>
<line x1="292.00" y1="28.50" x2="293.80" y2="28.50" stroke="#000" stroke-width="1.0"/>
<line x1="290.60" y1="37.50" x2="293.80" y2="37.50" stroke="#000" stroke-width="1.0"/>
<line x1="292.00" y1="46.50" x2="293.80" y2="46.50" stroke="#000" stroke-width="1.0"/>
<line x1="292.00" y1="55.50" x2="293.80" y2="55.50" stroke="#000" stroke-width="1.0"/>
<line x1="290.60" y1="65.50" x2="293.80" y2="65.50" stroke="#000" stroke-width="1.0"/>
<line x1="292.00" y1="74.50" x2="293.80" y2="74.50" stroke="#000" stroke-width="1.0"/>
<line x1="292.00" y1="83.50" x2="293.80" y2="83.50" stroke="#000" stroke-width="1.0"/>
<line x1="290.60" y1="92.50" x2="293.80" y2="92.50" stroke="#000" stroke-width="1.0"/>
<line x1="292.00" y1="101.50" x2="293.80" y2="101.50" stroke="#000" stroke-width="1.0"/>
<line x1="292.00" y1="110.50" x2="293.80" y2="110.50" stroke="#000" stroke-width="1.0"/>
<line x1="290.60" y1="119.50" x2="293.80" y2="119.50" stroke="#000" stroke-width="1.0"/>
<line x1="292.00" y1="128.50" x2="293.80" y2="128.50" stroke="#000" stroke-width="1.0"/>
<line x1="292.00" y1="137.50" x2="293.80" y2="137.50" stroke="#000" stroke-width="1.0"/>
<line x1="301.50" y1="146.80" x2="301.50" y2="148.60" stroke="#000" stroke-width="1.0"/>
<line x1="309.50" y1="146.80" x2="309.50" y2="148.60" stroke="#000" stroke-width="1.0"/>
<line x1="317.50" y1="146.80" x2="317.50" y2="149.80" stroke="#000" stroke-width="1.0"/>
<line x1="325.50" y1="146.80" x2="325.50" y2="148.60" stroke="#000" stroke-width="1.0"/>
<line x1="333.50" y1="146.80" x2="333.50" y2="148.60" stroke="#000" stroke-width="1.0"/>
<line x1="341.50" y1="146.80" x2="341.50" y2="149.80" stroke="#000" stroke-width="1.0"/>
<line x1="349.50" y1="146.80" x2="349.50" y2="148.60" stroke="#000" stroke-width="1.0"/>
<line x1="357.50" y1="146.80" x2="357.50" y2="148.60" stroke="#000" stroke-width="1.0"/>
<line x1="365.50" y1="146.80" x2="365.50" y2="149.80" stroke="#000" stroke-width="1.0"/>
<line x1="373.50" y1="146.80" x2="373.50" y2="148.60" stroke="#000" stroke-width="1.0"/>
<line x1="381.50" y1="146.80" x2="381.50" y2="148.60" stroke="#000" stroke-width="1.0"/>
<line x1="389.50" y1="146.80" x2="389.50" y2="149.80" stroke="#000" stroke-width="1.0"/>
<line x1="397.50" y1="146.80" x2="397.50" y2="148.60" stroke="#000" stroke-width="1.0"/>
<line x1="405.50" y1="146.80" x2="405.50" y2="148.60" stroke="#000" stroke-width="1.0"/>
<line x1="413.50" y1="146.80" x2="413.50" y2="149.80" stroke="#000" stroke-width="1.0"/>
<line x1="421.50" y1="146.80" x2="421.50" y2="148.60" stroke="#000" stroke-width="1.0"/>
<line x1="429.50" y1="146.80" x2="429.50" y2="148.60" stroke="#000" stroke-width="1.0"/>
<line x1="437.50" y1="146.80" x2="437.50" y2="149.80" stroke="#000" stroke-width="1.0"/>
<line x1="445.50" y1="146.80" x2="445.50" y2="148.60" stroke="#000" stroke-width="1.0"/>
<line x1="453.50" y1="146.80" x2="453.50" y2="148.60" stroke="#000" stroke-width="1.0"/>
<line x1="461.50" y1="146.80" x2="461.50" y2="149.80" stroke="#000" stroke-width="1.0"/>
<line x1="469.50" y1="146.80" x2="469.50" y2="148.60" stroke="#000" stroke-width="1.0"/>
<line x1="477.50" y1="146.80" x2="477.50" y2="148.60" stroke="#000" stroke-width="1.0"/>
<line x1="485.50" y1="146.80" x2="485.50" y2="149.80" stroke="#000" stroke-width="1.0"/>
<line x1="493.50" y1="146.80" x2="493.50" y2="148.60" stroke="#000" stroke-width="1.0"/>
<line x1="501.50" y1="146.80" x2="501.50" y2="148.60" stroke="#000" stroke-width="1.0"/>
<line x1="508.50" y1="146.80" x2="508.50" y2="149.80" stroke="#000" stroke-width="1.0"/>
<text x="283.33" y="160.00" font-size="7.7" textLength="4.15" lengthAdjust="spacingAndGlyphs" fill="#111" stroke="#111" stroke-width="0.1">0</text>
<text x="315.66" y="160.00" font-size="7.7" textLength="4.15" lengthAdjust="spacingAndGlyphs" fill="#111" stroke="#111" stroke-width="0.1">3</text>
<text x="339.53" y="160.00" font-size="7.7" textLength="4.15" lengthAdjust="spacingAndGlyphs" fill="#111" stroke="#111" stroke-width="0.1">6</text>
<text x="363.46" y="160.00" font-size="7.7" textLength="4.15" lengthAdjust="spacingAndGlyphs" fill="#111" stroke="#111" stroke-width="0.1">9</text>
<text x="385.20" y="160.00" font-size="7.7" textLength="8.31" lengthAdjust="spacingAndGlyphs" fill="#111" stroke="#111" stroke-width="0.1">12</text>
<text x="409.07" y="160.00" font-size="7.7" textLength="8.31" lengthAdjust="spacingAndGlyphs" fill="#111" stroke="#111" stroke-width="0.1">15</text>
<text x="432.98" y="160.00" font-size="7.7" textLength="8.31" lengthAdjust="spacingAndGlyphs" fill="#111" stroke="#111" stroke-width="0.1">18</text>
<text x="457.02" y="160.00" font-size="7.7" textLength="8.31" lengthAdjust="spacingAndGlyphs" fill="#111" stroke="#111" stroke-width="0.1">21</text>
<text x="480.86" y="160.00" font-size="7.7" textLength="8.31" lengthAdjust="spacingAndGlyphs" fill="#111" stroke="#111" stroke-width="0.1">24</text>
<text x="504.84" y="160.00" font-size="7.7" textLength="8.31" lengthAdjust="spacingAndGlyphs" fill="#111" stroke="#111" stroke-width="0.1">27</text>
<text x="356.02" y="171.00" font-size="9.8" textLength="57.93" lengthAdjust="spacingAndGlyphs" fill="#111" stroke="#111" stroke-width="0.22">Overall survival</text>
<text x="416.26" y="171.00" font-size="9.8" textLength="35.22" lengthAdjust="spacingAndGlyphs" fill="#111" stroke="#111" stroke-width="0.22">(months)</text>
<text x="303.20" y="137.00" font-size="7.6" textLength="64.19" lengthAdjust="spacingAndGlyphs" fill="#111" stroke="#111" stroke-width="0.1">Log-rank <tspan font-style="italic">P</tspan> = .0922</text>
<text x="409.46" y="21.00" font-size="7.5" textLength="29.64" lengthAdjust="spacingAndGlyphs" fill="#111" stroke="#111" stroke-width="0.1">Arm/Risk</text>
<line x1="443.10" y1="17.50" x2="464.40" y2="17.50" stroke="#000" stroke-width="1.6"/>
<text x="466.56" y="21.00" font-size="7.5" textLength="38.65" lengthAdjust="spacingAndGlyphs" fill="#111" stroke="#111" stroke-width="0.1">Arm B/High</text>
<line x1="443.10" y1="30.50" x2="464.40" y2="30.50" stroke="#000" stroke-width="1.6" stroke-dasharray="2 1.6 3.5 1.6 3.5 1.6 3.5 1.6 2"/>
<text x="466.56" y="33.00" font-size="7.5" textLength="38.64" lengthAdjust="spacingAndGlyphs" fill="#111" stroke="#111" stroke-width="0.1">Arm C/High</text>
<path d="M293.50,10.50 L342.50,10.50 L342.50,27.50 L350.50,27.50 L350.50,44.50 L362.50,44.50 L362.50,61.50 L433.50,61.50 L433.50,82.50 L506.50,82.50" fill="none" stroke="#000" stroke-width="1.7" stroke-linejoin="miter" stroke-linecap="butt"/>
<path d="M378.50,59.70 L379.50,61.50 L378.50,63.30 L377.50,61.50 Z" fill="#000"/>
<path d="M461.10,80.70 L462.10,82.50 L461.10,84.30 L460.10,82.50 Z" fill="#000"/>
<path d="M463.90,80.70 L464.90,82.50 L463.90,84.30 L462.90,82.50 Z" fill="#000"/>
<path d="M506.80,80.70 L507.80,82.50 L506.80,84.30 L505.80,82.50 Z" fill="#000"/>
<path d="M293.50,29.50 L299.50,29.50 L299.50,49.50 L305.50,49.50 L305.50,68.50 L353.50,68.50 L353.50,88.50 L355.50,88.50 L355.50,107.50 L392.50,107.50 L392.50,127.50 L489.50,127.50" fill="none" stroke="#000" stroke-width="1.7" stroke-dasharray="3.5 1.8" stroke-linejoin="miter" stroke-linecap="butt"/>
<path d="M489.50,125.50 L490.50,127.30 L489.50,129.10 L488.50,127.30 Z" fill="#000"/>
<text x="293.06" y="184.00" font-size="7.4" textLength="29.64" lengthAdjust="spacingAndGlyphs" fill="#111" stroke="#111" stroke-width="0.1">Arm/Risk</text>
<text x="336.56" y="184.00" font-size="7.4" textLength="6.71" lengthAdjust="spacingAndGlyphs" fill="#111" stroke="#111" stroke-width="0.1">N</text>
<text x="358.08" y="184.00" font-size="7.4" textLength="19.88" lengthAdjust="spacingAndGlyphs" fill="#111" stroke="#111" stroke-width="0.1">Event</text>
<text x="392.32" y="184.00" font-size="7.4" textLength="32.78" lengthAdjust="spacingAndGlyphs" fill="#111" stroke="#111" stroke-width="0.1">Censored</text>
<text x="436.29" y="184.00" font-size="7.4" textLength="57.29" lengthAdjust="spacingAndGlyphs" fill="#111" stroke="#111" stroke-width="0.1">Median (95% CI)</text>
<text x="289.16" y="194.00" font-size="7.4" textLength="38.45" lengthAdjust="spacingAndGlyphs" fill="#111" stroke="#111" stroke-width="0.1">Arm B/High</text>
<text x="337.74" y="194.00" font-size="7.4" textLength="4.50" lengthAdjust="spacingAndGlyphs" fill="#111" stroke="#111" stroke-width="0.1">8</text>
<text x="356.02" y="194.00" font-size="7.4" textLength="25.74" lengthAdjust="spacingAndGlyphs" fill="#111" stroke="#111" stroke-width="0.1">4 (50%)</text>
<text x="396.01" y="194.00" font-size="7.4" textLength="25.94" lengthAdjust="spacingAndGlyphs" fill="#111" stroke="#111" stroke-width="0.1">4 (50%)</text>
<text x="442.93" y="194.00" font-size="7.4" textLength="44.84" lengthAdjust="spacingAndGlyphs" fill="#111" stroke="#111" stroke-width="0.1">17.6(6.2, NA)</text>
<text x="289.16" y="203.60" font-size="7.4" textLength="38.44" lengthAdjust="spacingAndGlyphs" fill="#111" stroke="#111" stroke-width="0.1">Arm C/High</text>
<text x="337.68" y="203.60" font-size="7.4" textLength="4.64" lengthAdjust="spacingAndGlyphs" fill="#111" stroke="#111" stroke-width="0.1">7</text>
<text x="355.83" y="203.60" font-size="7.4" textLength="25.93" lengthAdjust="spacingAndGlyphs" fill="#111" stroke="#111" stroke-width="0.1">6 (86%)</text>
<text x="395.95" y="203.60" font-size="7.4" textLength="25.70" lengthAdjust="spacingAndGlyphs" fill="#111" stroke="#111" stroke-width="0.1">1 (14%)</text>
<text x="442.72" y="203.60" font-size="7.4" textLength="45.06" lengthAdjust="spacingAndGlyphs" fill="#111" stroke="#111" stroke-width="0.1">7.5(0.0, 12.5)</text>
<text x="261.49" y="232.00" font-size="12" font-weight="bold" textLength="7.87" lengthAdjust="spacingAndGlyphs" fill="#111" stroke="#111" stroke-width="0.1">D</text>
<text x="276.28" y="230.24" font-size="8.1" textLength="11.45" lengthAdjust="spacingAndGlyphs" fill="#111" stroke="#111" stroke-width="0.1">1.0</text>
<text x="275.96" y="256.83" font-size="8.1" textLength="11.78" lengthAdjust="spacingAndGlyphs" fill="#111" stroke="#111" stroke-width="0.1">0.8</text>
<text x="275.96" y="283.44" font-size="8.1" textLength="11.82" lengthAdjust="spacingAndGlyphs" fill="#111" stroke="#111" stroke-width="0.1">0.6</text>
<text x="275.96" y="310.63" font-size="8.1" textLength="11.69" lengthAdjust="spacingAndGlyphs" fill="#111" stroke="#111" stroke-width="0.1">0.4</text>
<text x="275.96" y="337.44" font-size="8.1" textLength="11.87" lengthAdjust="spacingAndGlyphs" fill="#111" stroke="#111" stroke-width="0.1">0.2</text>
<text transform="translate(269.20,313.11) rotate(-90)" x="0" y="0" font-size="8.2" textLength="40.88" lengthAdjust="spacingAndGlyphs" fill="#111" stroke="#111" stroke-width="0.1">Proportion</text>
<line x1="293.50" y1="224.40" x2="293.50" y2="362.45" stroke="#000" stroke-width="1.3"/>
<line x1="292.85" y1="361.50" x2="509.00" y2="361.50" stroke="#000" stroke-width="1.3"/>
<line x1="290.30" y1="227.50" x2="293.50" y2="227.50" stroke="#000" stroke-width="1.0"/>
<line x1="291.70" y1="236.50" x2="293.50" y2="236.50" stroke="#000" stroke-width="1.0"/>
<line x1="291.70" y1="245.50" x2="293.50" y2="245.50" stroke="#000" stroke-width="1.0"/>
<line x1="290.30" y1="254.50" x2="293.50" y2="254.50" stroke="#000" stroke-width="1.0"/>
<line x1="291.70" y1="263.50" x2="293.50" y2="263.50" stroke="#000" stroke-width="1.0"/>
<line x1="291.70" y1="272.50" x2="293.50" y2="272.50" stroke="#000" stroke-width="1.0"/>
<line x1="290.30" y1="281.50" x2="293.50" y2="281.50" stroke="#000" stroke-width="1.0"/>
<line x1="291.70" y1="290.50" x2="293.50" y2="290.50" stroke="#000" stroke-width="1.0"/>
<line x1="291.70" y1="298.50" x2="293.50" y2="298.50" stroke="#000" stroke-width="1.0"/>
<line x1="290.30" y1="307.50" x2="293.50" y2="307.50" stroke="#000" stroke-width="1.0"/>
<line x1="291.70" y1="316.50" x2="293.50" y2="316.50" stroke="#000" stroke-width="1.0"/>
<line x1="291.70" y1="325.50" x2="293.50" y2="325.50" stroke="#000" stroke-width="1.0"/>
<line x1="290.30" y1="334.50" x2="293.50" y2="334.50" stroke="#000" stroke-width="1.0"/>
<line x1="291.70" y1="343.50" x2="293.50" y2="343.50" stroke="#000" stroke-width="1.0"/>
<line x1="291.70" y1="352.50" x2="293.50" y2="352.50" stroke="#000" stroke-width="1.0"/>
<line x1="301.50" y1="361.80" x2="301.50" y2="363.60" stroke="#000" stroke-width="1.0"/>
<line x1="309.50" y1="361.80" x2="309.50" y2="363.60" stroke="#000" stroke-width="1.0"/>
<line x1="316.50" y1="361.80" x2="316.50" y2="364.80" stroke="#000" stroke-width="1.0"/>
<line x1="324.50" y1="361.80" x2="324.50" y2="363.60" stroke="#000" stroke-width="1.0"/>
<line x1="332.50" y1="361.80" x2="332.50" y2="363.60" stroke="#000" stroke-width="1.0"/>
<line x1="340.50" y1="361.80" x2="340.50" y2="364.80" stroke="#000" stroke-width="1.0"/>
<line x1="348.50" y1="361.80" x2="348.50" y2="363.60" stroke="#000" stroke-width="1.0"/>
<line x1="356.50" y1="361.80" x2="356.50" y2="363.60" stroke="#000" stroke-width="1.0"/>
<line x1="363.50" y1="361.80" x2="363.50" y2="364.80" stroke="#000" stroke-width="1.0"/>
<line x1="371.50" y1="361.80" x2="371.50" y2="363.60" stroke="#000" stroke-width="1.0"/>
<line x1="379.50" y1="361.80" x2="379.50" y2="363.60" stroke="#000" stroke-width="1.0"/>
<line x1="387.50" y1="361.80" x2="387.50" y2="364.80" stroke="#000" stroke-width="1.0"/>
<line x1="395.50" y1="361.80" x2="395.50" y2="363.60" stroke="#000" stroke-width="1.0"/>
<line x1="403.50" y1="361.80" x2="403.50" y2="363.60" stroke="#000" stroke-width="1.0"/>
<line x1="410.50" y1="361.80" x2="410.50" y2="364.80" stroke="#000" stroke-width="1.0"/>
<line x1="418.50" y1="361.80" x2="418.50" y2="363.60" stroke="#000" stroke-width="1.0"/>
<line x1="426.50" y1="361.80" x2="426.50" y2="363.60" stroke="#000" stroke-width="1.0"/>
<line x1="434.50" y1="361.80" x2="434.50" y2="364.80" stroke="#000" stroke-width="1.0"/>
<line x1="442.50" y1="361.80" x2="442.50" y2="363.60" stroke="#000" stroke-width="1.0"/>
<line x1="450.50" y1="361.80" x2="450.50" y2="363.60" stroke="#000" stroke-width="1.0"/>
<line x1="457.50" y1="361.80" x2="457.50" y2="364.80" stroke="#000" stroke-width="1.0"/>
<line x1="465.50" y1="361.80" x2="465.50" y2="363.60" stroke="#000" stroke-width="1.0"/>
<line x1="473.50" y1="361.80" x2="473.50" y2="363.60" stroke="#000" stroke-width="1.0"/>
<line x1="481.50" y1="361.80" x2="481.50" y2="364.80" stroke="#000" stroke-width="1.0"/>
<line x1="489.50" y1="361.80" x2="489.50" y2="363.60" stroke="#000" stroke-width="1.0"/>
<line x1="497.50" y1="361.80" x2="497.50" y2="363.60" stroke="#000" stroke-width="1.0"/>
<line x1="504.50" y1="361.80" x2="504.50" y2="364.80" stroke="#000" stroke-width="1.0"/>
<text x="282.63" y="375.00" font-size="7.7" textLength="4.15" lengthAdjust="spacingAndGlyphs" fill="#111" stroke="#111" stroke-width="0.1">0</text>
<text x="314.94" y="375.00" font-size="7.7" textLength="4.15" lengthAdjust="spacingAndGlyphs" fill="#111" stroke="#111" stroke-width="0.1">3</text>
<text x="338.39" y="375.00" font-size="7.7" textLength="4.15" lengthAdjust="spacingAndGlyphs" fill="#111" stroke="#111" stroke-width="0.1">6</text>
<text x="361.90" y="375.00" font-size="7.7" textLength="4.15" lengthAdjust="spacingAndGlyphs" fill="#111" stroke="#111" stroke-width="0.1">9</text>
<text x="383.22" y="375.00" font-size="7.7" textLength="8.31" lengthAdjust="spacingAndGlyphs" fill="#111" stroke="#111" stroke-width="0.1">12</text>
<text x="406.67" y="375.00" font-size="7.7" textLength="8.31" lengthAdjust="spacingAndGlyphs" fill="#111" stroke="#111" stroke-width="0.1">15</text>
<text x="430.16" y="375.00" font-size="7.7" textLength="8.31" lengthAdjust="spacingAndGlyphs" fill="#111" stroke="#111" stroke-width="0.1">18</text>
<text x="453.78" y="375.00" font-size="7.7" textLength="8.31" lengthAdjust="spacingAndGlyphs" fill="#111" stroke="#111" stroke-width="0.1">21</text>
<text x="477.20" y="375.00" font-size="7.7" textLength="8.31" lengthAdjust="spacingAndGlyphs" fill="#111" stroke="#111" stroke-width="0.1">24</text>
<text x="500.76" y="375.00" font-size="7.7" textLength="8.31" lengthAdjust="spacingAndGlyphs" fill="#111" stroke="#111" stroke-width="0.1">27</text>
<text x="335.31" y="387.00" font-size="9.6" textLength="94.84" lengthAdjust="spacingAndGlyphs" fill="#111" stroke="#111" stroke-width="0.22">Progression-free survival</text>
<text x="431.95" y="387.00" font-size="9.6" textLength="36.36" lengthAdjust="spacingAndGlyphs" fill="#111" stroke="#111" stroke-width="0.22">(months)</text>
<text x="362.10" y="355.00" font-size="7.6" textLength="64.08" lengthAdjust="spacingAndGlyphs" fill="#111" stroke="#111" stroke-width="0.1">Log-rank <tspan font-style="italic">P</tspan> = .4022</text>
<text x="408.86" y="235.20" font-size="7.5" textLength="29.84" lengthAdjust="spacingAndGlyphs" fill="#111" stroke="#111" stroke-width="0.1">Arm/Risk</text>
<line x1="442.50" y1="232.50" x2="463.30" y2="232.50" stroke="#000" stroke-width="1.6"/>
<text x="465.96" y="235.20" font-size="7.5" textLength="38.55" lengthAdjust="spacingAndGlyphs" fill="#111" stroke="#111" stroke-width="0.1">Arm B/High</text>
<line x1="442.50" y1="245.50" x2="463.30" y2="245.50" stroke="#000" stroke-width="1.6" stroke-dasharray="2 1.6 3.5 1.6 3.5 1.6 3.5 1.6 2"/>
<text x="465.96" y="247.40" font-size="7.5" textLength="38.54" lengthAdjust="spacingAndGlyphs" fill="#111" stroke="#111" stroke-width="0.1">Arm C/High</text>
<path d="M293.50,227.50 L298.50,227.50 L298.50,243.50 L302.50,243.50 L302.50,260.50 L314.50,260.50 L314.50,277.50 L333.50,277.50 L333.50,294.50 L336.50,294.50 L336.50,311.50 L339.50,311.50 L339.50,328.50 L357.50,328.50 L357.50,345.50 L463.50,345.50" fill="none" stroke="#000" stroke-width="1.7" stroke-linejoin="miter" stroke-linecap="butt"/>
<path d="M463.60,343.50 L464.60,345.30 L463.60,347.10 L462.60,345.30 Z" fill="#000"/>
<path d="M293.50,246.50 L299.50,246.50 L299.50,265.50 L301.50,265.50 L301.50,284.50 L303.50,284.50 L303.50,303.50 L330.50,303.50 L330.50,323.50 L355.50,323.50 L355.50,361.50" fill="none" stroke="#000" stroke-width="1.7" stroke-dasharray="3.5 1.8" stroke-linejoin="miter" stroke-linecap="butt"/>
<path d="M341.90,321.30 L342.90,323.10 L341.90,324.90 L340.90,323.10 Z" fill="#000"/>
<path d="M349.40,321.30 L350.40,323.10 L349.40,324.90 L348.40,323.10 Z" fill="#000"/>
<text x="292.46" y="401.00" font-size="7.4" textLength="29.84" lengthAdjust="spacingAndGlyphs" fill="#111" stroke="#111" stroke-width="0.1">Arm/Risk</text>
<text x="335.96" y="401.00" font-size="7.4" textLength="6.71" lengthAdjust="spacingAndGlyphs" fill="#111" stroke="#111" stroke-width="0.1">N</text>
<text x="357.49" y="401.00" font-size="7.4" textLength="19.46" lengthAdjust="spacingAndGlyphs" fill="#111" stroke="#111" stroke-width="0.1">Event</text>
<text x="390.91" y="401.00" font-size="7.4" textLength="33.60" lengthAdjust="spacingAndGlyphs" fill="#111" stroke="#111" stroke-width="0.1">Censored</text>
<text x="436.30" y="401.00" font-size="7.4" textLength="56.27" lengthAdjust="spacingAndGlyphs" fill="#111" stroke="#111" stroke-width="0.1">Median (95% CI)</text>
<text x="288.66" y="411.00" font-size="7.4" textLength="38.34" lengthAdjust="spacingAndGlyphs" fill="#111" stroke="#111" stroke-width="0.1">Arm B/High</text>
<text x="337.36" y="411.00" font-size="7.4" textLength="4.14" lengthAdjust="spacingAndGlyphs" fill="#111" stroke="#111" stroke-width="0.1">8</text>
<text x="355.43" y="411.00" font-size="7.4" textLength="25.82" lengthAdjust="spacingAndGlyphs" fill="#111" stroke="#111" stroke-width="0.1">7 (88%)</text>
<text x="395.24" y="411.00" font-size="7.4" textLength="26.01" lengthAdjust="spacingAndGlyphs" fill="#111" stroke="#111" stroke-width="0.1">1 (13%)</text>
<text x="444.70" y="411.00" font-size="7.4" textLength="40.16" lengthAdjust="spacingAndGlyphs" fill="#111" stroke="#111" stroke-width="0.1">5.3(0.7, 8.3)</text>
<text x="288.66" y="420.00" font-size="7.4" textLength="38.34" lengthAdjust="spacingAndGlyphs" fill="#111" stroke="#111" stroke-width="0.1">Arm C/High</text>
<text x="337.32" y="420.00" font-size="7.4" textLength="4.28" lengthAdjust="spacingAndGlyphs" fill="#111" stroke="#111" stroke-width="0.1">7</text>
<text x="355.43" y="420.00" font-size="7.4" textLength="25.82" lengthAdjust="spacingAndGlyphs" fill="#111" stroke="#111" stroke-width="0.1">6 (86%)</text>
<text x="395.24" y="420.00" font-size="7.4" textLength="26.01" lengthAdjust="spacingAndGlyphs" fill="#111" stroke="#111" stroke-width="0.1">1 (14%)</text>
<text x="444.44" y="420.00" font-size="7.4" textLength="40.43" lengthAdjust="spacingAndGlyphs" fill="#111" stroke="#111" stroke-width="0.1">1.3(0.0, 7.8)</text>
</svg></body></html>
